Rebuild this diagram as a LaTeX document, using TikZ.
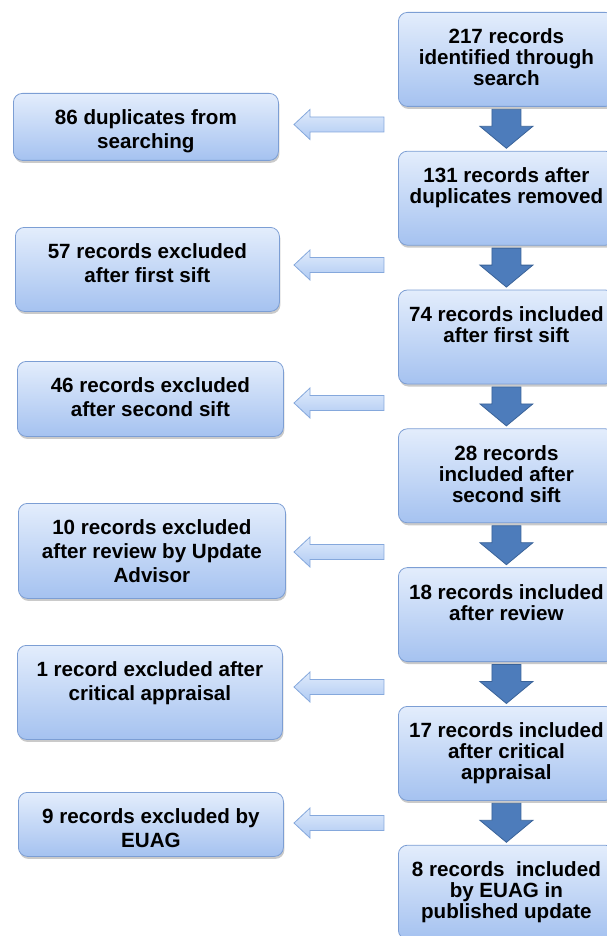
\documentclass[tikz,border=0pt]{standalone}
\usepackage{fontspec}
\setmainfont{Liberation Sans}
\usetikzlibrary{positioning,calc,shadows}

\definecolor{boxtop}{HTML}{E3EDFC}
\definecolor{boxbot}{HTML}{A5C2F0}
\definecolor{boxline}{HTML}{7C9ED4}
\definecolor{downfill}{HTML}{4D7CBB}
\definecolor{downline}{HTML}{3A6399}
\definecolor{arrtop}{HTML}{E0EBFB}
\definecolor{arrbot}{HTML}{AFCAF3}
\definecolor{arrline}{HTML}{85A8DC}

\tikzset{
  flowbox/.style={draw=boxline, line width=0.8pt, rounded corners=9pt,
    top color=boxtop, bottom color=boxbot, inner sep=0pt,
    drop shadow={shadow xshift=1pt, shadow yshift=-2.5pt, opacity=0.35, fill=black!60}},
  recbox/.style={flowbox, font=\bfseries\fontsize{20.6}{21}\selectfont},
  exbox/.style={flowbox, anchor=north west, font=\bfseries\fontsize{20.6}{24}\selectfont},
  downarr/.style={draw=downline, line width=0.8pt, fill=downfill},
  leftarr/.style={draw=arrline, line width=0.8pt, top color=arrtop, bottom color=arrbot}
}
% box text starts near the top of the box
\newcommand{\boxtext}[3]{\parbox[c][#2][t]{#1}{\centering\vspace*{16.5pt}#3\par}}

\begin{document}
\begin{tikzpicture}[x=1pt,y=1pt]
\useasboundingbox (0,0) rectangle (607,-936);

% records kept
\node[recbox, anchor=north west] (r1) at (398,-12) {\boxtext{216pt}{94pt}{217 records\\identified through\\search}};
\node[recbox, below=44pt of r1] (r2) {\boxtext{216pt}{94pt}{131 records after\\duplicates removed}};
\node[recbox, below=44pt of r2] (r3) {\boxtext{216pt}{94pt}{74 records included\\after first sift}};
\node[recbox, below=44pt of r3] (r4) {\boxtext{216pt}{94pt}{28 records\\included after\\second sift}};
\node[recbox, below=44pt of r4] (r5) {\boxtext{216pt}{94pt}{18 records included\\after review}};
\node[recbox, below=44pt of r5] (r6) {\boxtext{216pt}{94pt}{17 records included\\after critical\\appraisal}};
\node[recbox, below=44pt of r6] (r7) {\boxtext{216pt}{94pt}{8 records\ \ included\\by EUAG in\\published update}};

% records dropped
\node[exbox] (l1) at (13,-93) {\boxtext{265pt}{67pt}{86 duplicates from\\searching}};
\node[exbox] (l2) at (15,-227) {\boxtext{264pt}{84pt}{57 records excluded\\after first sift}};
\node[exbox] (l3) at (17,-361) {\boxtext{266pt}{75pt}{46 records excluded\\after second sift}};
\node[exbox] (l4) at (18,-503) {\boxtext{267pt}{95pt}{10 records excluded\\after review by Update\\Advisor}};
\node[exbox] (l5) at (17,-645) {\boxtext{265pt}{94pt}{1 record excluded after\\critical appraisal}};
\node[exbox] (l6) at (18,-792) {\boxtext{265pt}{64pt}{9 records excluded by\\EUAG}};

% block arrows down the right column
\foreach \a/\b in {r1/r2,r2/r3,r3/r4,r4/r5,r5/r6,r6/r7}{
  \coordinate (d-\a) at ($(\a.south)!.5!(\b.north)$);
  \draw[downarr, shift={(d-\a)}] (-14.5,19.5) -- (14.5,19.5) -- (14.5,2.5) -- (26.5,2.5)
    -- (0,-19.5) -- (-26.5,2.5) -- (-14.5,2.5) -- cycle;
}

% hollow arrows to the left column
\foreach \i/\y in {1/124.5,2/265,3/403,4/552,5/687,6/823}{
  \coordinate (a\i) at (339,-\y);
  \draw[leftarr, shift={(a\i)}] (45,7.5) -- (-29,7.5) -- (-29,15) -- (-45,0)
    -- (-29,-15) -- (-29,-7.5) -- (45,-7.5) -- cycle;
}
\end{tikzpicture}
\end{document}
